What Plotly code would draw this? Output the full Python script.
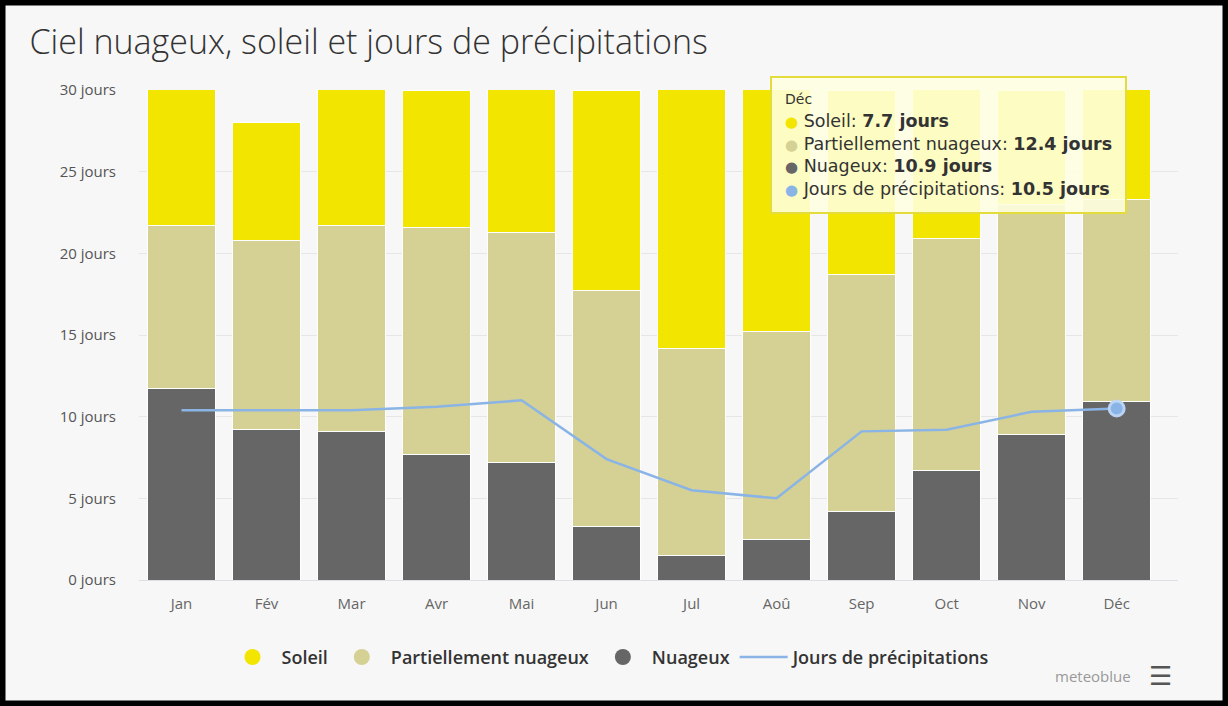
import plotly.graph_objects as go

# données mensuelles (jours)
mois = ["Jan", "Fév", "Mar", "Avr", "Mai", "Jun", "Jul", "Aoû", "Sep", "Oct", "Nov", "Déc"]
nuageux = [11.7, 9.2, 9.1, 7.7, 7.2, 3.3, 1.5, 2.5, 4.2, 6.7, 8.9, 10.9]
partiel = [10.0, 11.6, 12.6, 13.9, 14.1, 14.4, 12.7, 12.7, 14.5, 14.2, 14.1, 12.4]
soleil = [9.3, 7.2, 9.3, 8.4, 9.7, 12.3, 16.8, 15.8, 11.3, 10.1, 7.0, 7.7]
precip = [10.4, 10.4, 10.4, 10.6, 11.0, 7.4, 5.5, 5.0, 9.1, 9.2, 10.3, 10.5]
y_ticks = [0, 5, 10, 15, 20, 25, 30]

C_SOLEIL = "#f2e500"
C_PARTIEL = "#d5d194"
C_NUAGEUX = "#666666"
C_PRECIP = "#8ab4e6"
FONT = "Open Sans"
FONT_TIP = "DejaVu Sans"

W, H = 1228, 706
L, R, T, B = 139, 50, 90, 126

fig = go.Figure()

for nom, vals, col in [("Nuageux", nuageux, C_NUAGEUX),
                       ("Partiellement nuageux", partiel, C_PARTIEL),
                       ("Soleil", soleil, C_SOLEIL)]:
    fig.add_trace(go.Bar(x=mois, y=vals, name=nom, marker_color=col,
                         marker_line=dict(color="white", width=1),
                         showlegend=False, legendgroup=nom))

fig.add_trace(go.Scatter(x=mois, y=precip, mode="lines", name="Jours de précipitations",
                         line=dict(color=C_PRECIP, width=2.5), showlegend=False))
# point survolé (Déc)
fig.add_trace(go.Scatter(x=[mois[-1]], y=[precip[-1]], mode="markers", showlegend=False,
                         marker=dict(size=15, color=C_PRECIP,
                                     line=dict(color="rgba(190,215,245,0.95)", width=3))))

# légende avec pastilles rondes
for nom, col in [("Soleil", C_SOLEIL), ("Partiellement nuageux", C_PARTIEL), ("Nuageux", C_NUAGEUX)]:
    fig.add_trace(go.Scatter(x=[None], y=[None], mode="markers", name=nom,
                             marker=dict(size=18, color=col, symbol="circle")))
fig.add_trace(go.Scatter(x=[None], y=[None], mode="lines", name="Jours de précipitations",
                         line=dict(color=C_PRECIP, width=2.5)))

# info-bulle Déc
i = len(mois) - 1
puce = "<span style='color:{c};font-size:15px'>●</span>"
tip = (f"<span style='font-size:14px'>{mois[i]}</span><br>"
       f"{puce.format(c=C_SOLEIL)} Soleil: <b>{soleil[i]} jours</b><br>"
       f"{puce.format(c=C_PARTIEL)} Partiellement nuageux: <b>{partiel[i]} jours</b><br>"
       f"{puce.format(c=C_NUAGEUX)} Nuageux: <b>{nuageux[i]} jours</b><br>"
       f"{puce.format(c=C_PRECIP)} Jours de précipitations: <b>{precip[i]} jours</b>")
pw, ph = W - L - R, H - T - B
fig.add_annotation(x=(770 - L) / pw, y=(H - B - 76) / ph, xref="paper", yref="paper",
                   xanchor="left", yanchor="top", align="left", showarrow=False,
                   text=tip, font=dict(family=FONT_TIP, size=17.5, color="#333"),
                   bgcolor="rgba(255,255,226,0.86)", bordercolor="#e4dc3c", borderwidth=2,
                   borderpad=13)

fig.add_annotation(x=(1133 - L) / pw, y=(H - B - 676) / ph, xref="paper", yref="paper",
                   xanchor="right", yanchor="middle", showarrow=False, text="meteoblue",
                   font=dict(family=FONT, size=15, color="#999"))
fig.add_annotation(x=(1160 - L) / pw, y=(H - B - 676) / ph, xref="paper", yref="paper",
                   xanchor="center", yanchor="middle", showarrow=False, text="<b>☰</b>",
                   font=dict(family="DejaVu Sans", size=26, color="#555"))

# cadre noir
fig.add_shape(type="rect", xref="paper", yref="paper",
              x0=-L / pw, x1=1 + R / pw, y0=-B / ph, y1=1 + T / ph,
              line=dict(color="black", width=11), fillcolor="rgba(0,0,0,0)", layer="above")

fig.update_layout(
    width=W, height=H,
    barmode="stack", bargap=0.2,
    title=dict(text="Ciel nuageux, soleil et jours de précipitations", xref="container",
               x=0.024, y=1 - 42 / H, yanchor="middle", xanchor="left",
               font=dict(family=FONT, size=34, color="#333", weight=300)),
    paper_bgcolor="#f7f7f7", plot_bgcolor="#f7f7f7",
    margin=dict(l=L, r=R, t=T, b=B),
    font=dict(family=FONT, color="#555"),
    xaxis=dict(showgrid=False, tickfont=dict(size=15, color="#666"), ticks="",
               showline=True, linecolor="#dcdfe6", linewidth=1, ticklabelstandoff=10),
    yaxis=dict(range=[0, 30], tickvals=y_ticks, ticktext=[f"{v} jours" for v in y_ticks],
               gridcolor="#e6e6e6", zeroline=False, tickfont=dict(size=15, color="#555"),
               ticklabelstandoff=22),
    legend=dict(orientation="h", x=(610 - L) / pw, xanchor="center", y=-0.12, yanchor="top",
                font=dict(family=FONT, size=18, color="#333", weight=600),
                itemwidth=48, traceorder="normal"),
    hovermode=False,
)

fig.write_html("out.html", config={"displayModeBar": False},
               post_script="document.body.style.margin='0';")
